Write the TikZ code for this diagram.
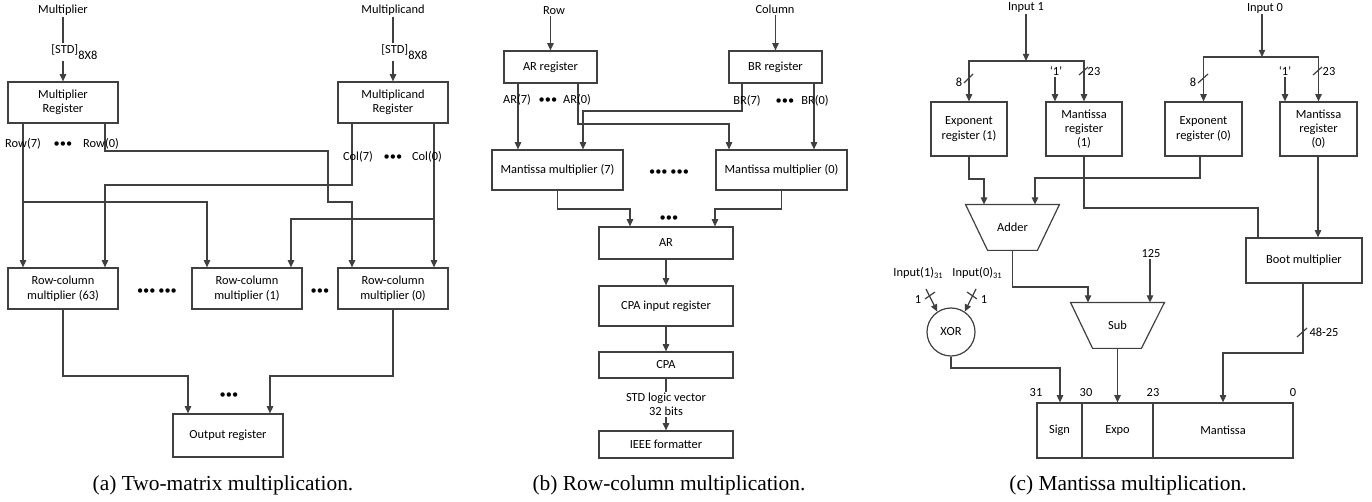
\documentclass[tikz,border=0pt]{standalone}
\usepackage{fontspec}
\setmainfont{Carlito}
\newfontfamily\capfont{Liberation Serif}
\usetikzlibrary{arrows.meta,calc}
\newcommand\dgmfont{\fontsize{6.2}{7.2}\selectfont}
\tikzset{
  ln/.style={draw=black!75, line width=0.6pt},
  arr/.style={ln, -{Triangle[length=3.6pt,width=3.2pt]}},
  box/.style={draw=black!75, line width=0.6pt, align=center, inner sep=1pt, font=\dgmfont, text=black},
  lbl/.style={font=\dgmfont, inner sep=0.5pt, text=black},
  dotlbl/.style={font=\dgmfont, inner sep=0.5pt, text=black},
  captext/.style={font=\capfont\fontsize{10.7}{12}\selectfont, inner sep=0pt},
}
\begin{document}
\begin{tikzpicture}[x=0.5pt,y=-0.5pt]
\useasboundingbox (0,0) rectangle (1372,502);
\fill[white] (0,0) rectangle (1372,502);

% ================= Panel (a) =================
\node[lbl] (lmr) at (63,10) {Multiplier};
\node[lbl] (lmd) at (393,10) {Multiplicand};
\node[box, minimum width=55pt, minimum height=20.5pt] (mr) at (63,102.5) {Multiplier\\Register};
\node[box, minimum width=55pt, minimum height=20.5pt] (md) at (393,102.5) {Multiplicand\\Register};
\node[box, minimum width=55pt, minimum height=20.5pt] (rc63) at (63,288.5) {Row-column\\multiplier (63)};
\node[box, minimum width=55pt, minimum height=20.5pt] (rc1) at (247,288.5) {Row-column\\multiplier (1)};
\node[box, minimum width=55pt, minimum height=20.5pt] (rc0) at (393,288.5) {Row-column\\multiplier (0)};
\node[box, minimum width=55pt, minimum height=21.5pt] (outr) at (228,435.5) {Output register};

\draw[arr] (lmr.south) -- (mr.north);
\draw[arr] (lmd.south) -- (md.north);
\node[lbl, fill=white, anchor=west] (std1) at (50,52) {[STD]\raisebox{-3pt}{8X8}};
\node[lbl, fill=white, anchor=west] (std2) at (380,52) {[STD]\raisebox{-3pt}{8X8}};

% Row(7)
\draw[arr] (mr.south -| 23,0) -- (rc63.north -| 23,0);
\coordinate (ja1) at (23,202);
\draw[arr] (ja1) -- (207,202) -- (rc1.north -| 207,0);
% Row(0)
\draw[arr] (mr.south -| 105,0) -- (105,151) -- (328,151) -- (328,202) -- (352,202) -- (rc0.north -| 352,0);
% Col(7)
\draw[arr] (md.south -| 352,0) -- (352,185) -- (105,185) -- (rc63.north -| 105,0);
% Col(0)
\draw[arr] (md.south -| 434,0) -- (rc0.north -| 434,0);
\coordinate (ja2) at (434,219);
\draw[arr] (ja2) -- (291,219) -- (rc1.north -| 291,0);
% outputs
\draw[arr] (rc63.south) -- (63,376) -- (188,376) -- (outr.north -| 188,0);
\draw[arr] (rc0.south) -- (393,376) -- (270,376) -- (outr.north -| 270,0);

\node[lbl] (lr7) at (23,144) {Row(7)};
\node[dotlbl] (da1) at (63,145) {•••};
\node[lbl] (lr0) at (101,144) {Row(0)};
\node[lbl] (lc7) at (358,157) {Col(7)};
\node[dotlbl] (da2) at (393,158) {•••};
\node[lbl] (lc0) at (427,157) {Col(0)};
\node[dotlbl] (da3) at (157,292) {••• •••};
\node[dotlbl] (da4) at (320,292) {•••};
\node[dotlbl] (da5) at (229,396) {•••};

\node[captext] (capa) at (223,485) {(a) Two-matrix multiplication.};

% ================= Panel (b) =================
\node[lbl] (lrow) at (554,11) {Row};
\node[lbl] (lcol) at (775,9) {Column};
\node[box, minimum width=46.5pt, minimum height=16pt] (ar) at (550.5,67) {AR register};
\node[box, minimum width=46.5pt, minimum height=16pt] (br) at (775.5,67) {BR register};
\node[box, minimum width=65.5pt, minimum height=20pt] (mm7) at (557.5,170) {Mantissa multiplier (7)};
\node[box, minimum width=65.5pt, minimum height=20pt] (mm0) at (781.5,170) {Mantissa multiplier (0)};
\node[box, minimum width=67pt, minimum height=16pt] (arb) at (666,243) {AR};
\node[box, minimum width=67pt, minimum height=20pt] (cpai) at (666,306) {CPA input register};
\node[box, minimum width=67pt, minimum height=13pt] (cpa) at (666,365) {CPA};
\node[box, minimum width=67pt, minimum height=13.5pt] (ieee) at (666,444.5) {IEEE formatter};

\draw[arr] (lrow.south -| ar.north) -- (ar.north);
\draw[arr] (lcol.south -| br.north) -- (br.north);
\draw[arr] (ar.south -| 518,0) -- (mm7.north -| 518,0);
\draw[arr] (ar.south -| 578,0) -- (578,124) -- (729,124) -- (mm0.north -| 729,0);
\draw[arr] (br.south -| 742,0) -- (742,111) -- (583,111) -- (mm7.north -| 583,0);
\draw[arr] (br.south -| 814,0) -- (mm0.north -| 814,0);
\draw[arr] (mm7.south) -- (557.5,209) -- (630,209) -- (arb.north -| 630,0);
\draw[arr] (mm0.south) -- (781.5,209) -- (715,209) -- (arb.north -| 715,0);
\draw[arr] (arb.south) -- (cpai.north);
\draw[arr] (cpai.south) -- (cpa.north);
\draw[arr] (cpa.south) -- (ieee.north);
\node[lbl, fill=white, align=center] (stdl) at (666,404.5) {STD logic vector\\32 bits};

\node[lbl] (lar7) at (517,100) {AR(7)};
\node[dotlbl] (db1) at (548,101) {•••};
\node[lbl] (lar0) at (577,100) {AR(0)};
\node[lbl] (lbr7) at (747,101) {BR(7)};
\node[dotlbl] (db2) at (785,102) {•••};
\node[lbl] (lbr0) at (815,101) {BR(0)};
\node[dotlbl] (db3) at (669,173) {••• •••};
\node[dotlbl] (db4) at (669,219) {•••};

\node[captext] (capb) at (669,485) {(b) Row-column multiplication.};

% ================= Panel (c) =================
\node[lbl] (lin1) at (1026,8) {Input 1};
\node[lbl] (lin0) at (1265,8) {Input 0};
\node[box, minimum width=38pt, minimum height=27pt] (er1) at (969,129) {Exponent\\register (1)};
\node[box, minimum width=38pt, minimum height=27pt] (mr1) at (1084,129) {Mantissa\\register\\(1)};
\node[box, minimum width=38.5pt, minimum height=27pt] (er0) at (1203.5,129) {Exponent\\register (0)};
\node[box, minimum width=38.5pt, minimum height=27pt] (mr0) at (1318.5,129) {Mantissa\\register\\(0)};

\coordinate (b1) at (1026,61);
\coordinate (b0) at (1262,57);
\draw[arr] (lin1.south -| b1) -- (b1);
\draw[arr] (b1) -| (er1.north);
\draw[arr] (b1) -| (mr1.north);
\draw[arr] (lin0.south -| b0) -- (b0);
\draw[arr] (b0) -| (er0.north);
\draw[arr] (b0) -| (mr0.north);

\node[lbl] (one1) at (1056,71) {‘1’};
\node[lbl] (one0) at (1285,71) {‘1’};
\draw[arr] (one1.south -| 1055,0) -- (mr1.north -| 1055,0);
\draw[arr] (one0.south) -- (mr0.north -| one0.south);

% bus width marks
\draw[ln] (964,83) -- (973,74);
\draw[ln] (1079,75) -- (1088,67);
\draw[ln] (1198,83) -- (1208,74);
\draw[ln] (1313,75) -- (1322,67);
\node[lbl] (w8a) at (959,82) {8};
\node[lbl] (w23a) at (1094,72) {23};
\node[lbl] (w8b) at (1193,82) {8};
\node[lbl] (w23b) at (1329,72) {23};

% Adder
\node[lbl, minimum width=46.5pt, minimum height=22.5pt] (adder) at (1012.5,227.5) {Adder};
\draw[ln] (adder.north west) -- (adder.north east) -- ([xshift=-11pt]adder.south east) -- ([xshift=11pt]adder.south west) -- cycle;
\draw[arr] (er1.south) -- (969,179) -- (984,179) -- (adder.north -| 984,0);
\draw[arr] (er0.south -| 1200,0) -- (1200,178) -- (1035,178) -- (adder.north -| 1035,0);

% Boot multiplier
\node[box, minimum width=58pt, minimum height=22.5pt] (boot) at (1304,260.5) {Boot multiplier};
\draw[ln] (mr1.south) -- (1084,208) -- (1258,208) -- (boot.north -| 1258,0);
\draw[arr] (mr0.south -| 1318,0) -- (boot.north -| 1318,0);

% Sub
\node[lbl, minimum width=46.5pt, minimum height=22.5pt] (sub) at (1117.5,325.5) {Sub};
\draw[ln] (sub.north west) -- (sub.north east) -- ([xshift=-11.5pt]sub.south east) -- ([xshift=11pt]sub.south west) -- cycle;
\node[lbl] (l125) at (1151,254) {125};
\draw[arr] (l125.south -| 1150,0) -- (sub.north -| 1150,0);
\draw[arr] (adder.south) -- (1012.5,287) -- (1088,287) -- (sub.north -| 1088,0);

% XOR
\node[draw=black!75, line width=0.6pt, circle, minimum size=24pt, inner sep=0pt, font=\dgmfont, text=black] (xor) at (951,332) {XOR};
\node[lbl] (li1) at (918,273) {Input(1)\raisebox{-1pt}{\fontsize{4.2}{5}\selectfont 31}};
\node[lbl] (li0) at (977,273) {Input(0)\raisebox{-1pt}{\fontsize{4.2}{5}\selectfont 31}};
\coordinate (x1s) at (926,289);
\coordinate (x0s) at (976,289);
\draw[arr] (x1s) -- (xor.124);
\draw[arr] (x0s) -- (xor.56);
\draw[ln] (925,299) -- (935,292);
\draw[ln] (967,292) -- (977,299);
\node[lbl] (n1a) at (918,300) {1};
\node[lbl] (n1b) at (984,300) {1};

% Output word
\node[box, minimum width=22.5pt, minimum height=27.5pt] (sign) at (1059.5,430.5) {Sign};
\node[box, minimum width=35.5pt, minimum height=27.5pt] (expo) at (1117.5,430.5) {Expo};
\node[box, minimum width=70pt, minimum height=27.5pt] (mant) at (1223,430.5) {Mantissa};
\draw[arr] (xor.south) -- (951,368) -- (1060,368) -- (sign.north -| 1060,0);
\draw[arr] (sub.south) -- (expo.north);
\draw[arr] (boot.south -| 1303,0) -- (1303,353) -- (1223,353) -- (mant.north);
\draw[ln] (1297,337) -- (1307,328);
\node[lbl] (w48) at (1324,332) {48-25};

\node[lbl] (b31) at (1036,393) {31};
\node[lbl] (b30) at (1086,393) {30};
\node[lbl] (b23) at (1153,393) {23};
\node[lbl] (b0l) at (1293,393) {0};

\node[captext] (capc) at (1128,485) {(c) Mantissa multiplication.};
\end{tikzpicture}
\end{document}
